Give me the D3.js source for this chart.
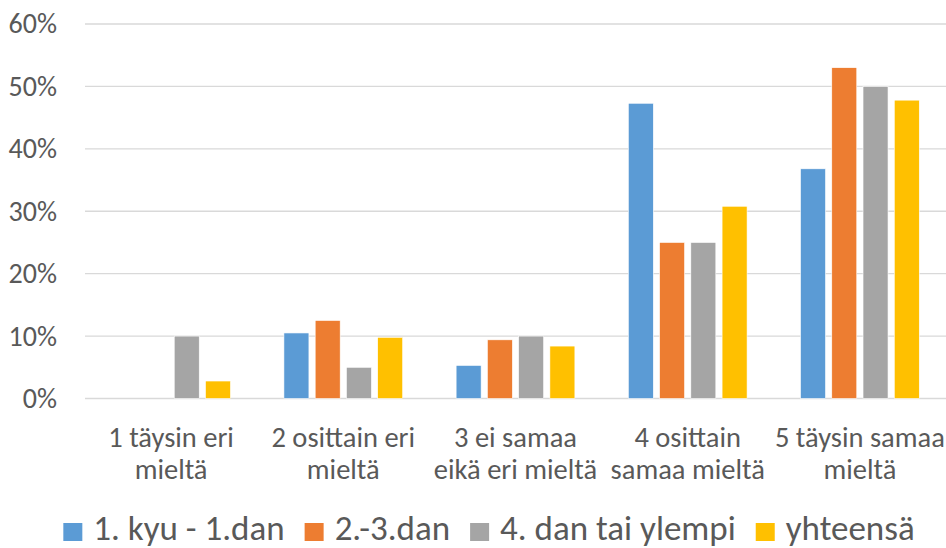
<!DOCTYPE html>
<html>
<head>
<meta charset="utf-8">
<script src="https://cdn.jsdelivr.net/npm/d3@7"></script>
<style>
  html, body { margin: 0; padding: 0; background: #fff; }
  svg text { font-family: Carlito, Lato, "Noto Sans", sans-serif; fill: #595959; }
</style>
</head>
<body>
<svg id="chart" width="946" height="548"></svg>
<script>
const width = 946;
const height = 548;

// data
const categories = [
  ["1 täysin eri", "mieltä"],
  ["2 osittain eri", "mieltä"],
  ["3 ei samaa", "eikä eri mieltä"],
  ["4 osittain", "samaa mieltä"],
  ["5 täysin samaa", "mieltä"]
];
const seriesNames = ["1. kyu - 1.dan", "2.-3.dan", "4. dan tai ylempi", "yhteensä"];
const seriesColors = ["#5b9bd5", "#ed7d31", "#a5a5a5", "#ffc000"];
const kyuDan1 = [0, 0.105, 0.053, 0.473, 0.368];
const dan2to3 = [0, 0.125, 0.094, 0.25, 0.53];
const dan4plus = [0.10, 0.05, 0.10, 0.25, 0.50];
const yhteensa = [0.028, 0.098, 0.084, 0.308, 0.478];
const yTicks = [0, 0.1, 0.2, 0.3, 0.4, 0.5, 0.6];

const seriesValues = [kyuDan1, dan2to3, dan4plus, yhteensa];

const svg = d3.select("#chart");

const x0 = d3.scaleBand()
  .domain(d3.range(categories.length))
  .range([85, 946])
  .paddingInner(0.274)
  .paddingOuter(0.137);

const x1 = d3.scaleBand()
  .domain(d3.range(seriesNames.length))
  .range([0, x0.bandwidth()])
  .paddingInner(0.2)
  .paddingOuter(0.1);

const y = d3.scaleLinear().domain([0, 0.6]).range([398.5, 24]);

// gridlines
svg.append("g")
  .selectAll("line")
  .data(yTicks)
  .join("line")
  .attr("x1", 85)
  .attr("x2", 946)
  .attr("y1", d => y(d))
  .attr("y2", d => y(d))
  .attr("stroke", "#d9d9d9")
  .attr("stroke-width", 1.3);

// y axis labels
const yAxis = d3.axisLeft(y)
  .tickValues(yTicks)
  .tickFormat(d3.format(".0%"))
  .tickSize(0)
  .tickPadding(0);

svg.append("g")
  .attr("transform", "translate(57,0)")
  .call(yAxis)
  .call(g => g.select(".domain").remove())
  .call(g => g.selectAll("text")
    .attr("font-size", 28)
    .attr("fill", "#595959")
    .attr("font-family", "Carlito, Lato, sans-serif"));

// bars
const groups = svg.append("g")
  .selectAll("g")
  .data(categories.map((c, i) => i))
  .join("g")
  .attr("transform", i => "translate(" + x0(i) + ",0)");

groups.selectAll("rect")
  .data(i => seriesValues.map((vals, s) => ({s: s, v: vals[i]})))
  .join("rect")
  .attr("x", d => x1(d.s))
  .attr("width", x1.bandwidth())
  .attr("y", d => y(d.v))
  .attr("height", d => y(0) - y(d.v))
  .attr("fill", d => seriesColors[d.s])
  .attr("stroke", "#fff")
  .attr("stroke-width", 0.6)
  .style("display", d => d.v > 0 ? null : "none");

// category labels
const catLabels = svg.append("g")
  .selectAll("text")
  .data(categories)
  .join("text")
  .attr("x", (d, i) => x0(i) + x0.bandwidth() / 2)
  .attr("y", 447)
  .attr("text-anchor", "middle")
  .attr("font-size", 28.5);

catLabels.selectAll("tspan")
  .data(d => d)
  .join("tspan")
  .attr("x", function() { return d3.select(this.parentNode).attr("x"); })
  .attr("dy", (d, i) => i === 0 ? 0 : 32)
  .text(d => d);

// legend
const legend = svg.append("g");
const items = legend.selectAll("g")
  .data(seriesNames)
  .join("g");

items.append("rect")
  .attr("width", 19)
  .attr("height", 18)
  .attr("y", 523)
  .attr("fill", (d, i) => seriesColors[i]);

items.append("text")
  .attr("x", 30)
  .attr("y", 540)
  .attr("font-size", 35)
  .text(d => d);

let pos = 0;
const offsets = [];
items.each(function() {
  offsets.push(pos);
  pos += this.getBBox().width + 20;
});
const total = pos - 20;
const startX = 489 - total / 2;
items.attr("transform", (d, i) => "translate(" + (startX + offsets[i]) + ",0)");
</script>
</body>
</html>
